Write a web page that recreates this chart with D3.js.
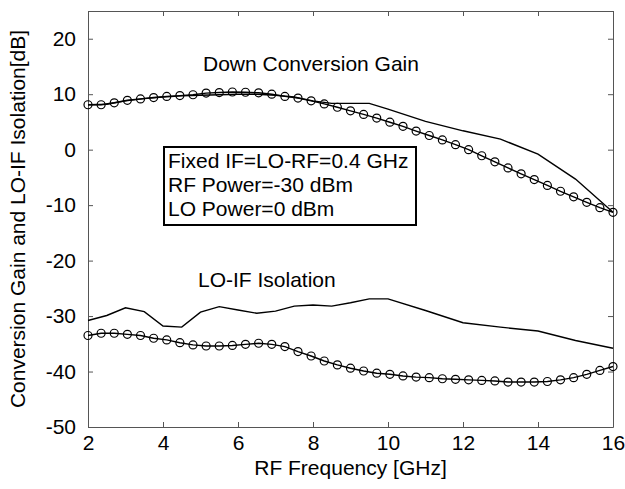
<!DOCTYPE html>
<html>
<head>
<meta charset="utf-8">
<script src="https://cdn.jsdelivr.net/npm/d3@7"></script>
<style>
  body { margin: 0; background: #fff; }
  svg { display: block; font-family: "Liberation Sans", Arial, sans-serif; }
</style>
</head>
<body>
<div id="main"></div>
<script>
// data
var freqCircle = [2.0, 2.35, 2.7, 3.05, 3.4, 3.75, 4.1, 4.45, 4.8, 5.15, 5.5, 5.85, 6.2, 6.55, 6.9,
  7.25, 7.6, 7.95, 8.3, 8.65, 9.0, 9.35, 9.7, 10.05, 10.4, 10.75, 11.1, 11.45, 11.8, 12.15,
  12.5, 12.85, 13.2, 13.55, 13.9, 14.25, 14.6, 14.95, 15.3, 15.65, 16.0];
var gainCircle = [8.1, 8.1, 8.45, 8.9, 9.15, 9.4, 9.6, 9.75, 9.9, 10.2, 10.3, 10.4, 10.35, 10.25, 10.0,
  9.6, 9.3, 8.8, 8.25, 7.65, 7.0, 6.35, 5.7, 4.95, 4.2, 3.35, 2.55, 1.75, 0.9, 0.0,
  -1.1, -2.2, -3.3, -4.35, -5.4, -6.45, -7.5, -8.5, -9.5, -10.45, -11.3];
var isoCircle = [-33.5, -33.1, -33.1, -33.3, -33.5, -34.0, -34.3, -34.8, -35.2, -35.4, -35.4, -35.3, -35.1, -34.9, -35.1,
  -35.5, -36.4, -37.2, -38.1, -38.8, -39.4, -39.9, -40.3, -40.5, -40.8, -41.0, -41.1, -41.3, -41.4, -41.5,
  -41.6, -41.7, -41.9, -41.9, -41.9, -41.8, -41.5, -41.1, -40.5, -39.8, -39.1];

var freqLine = [2, 2.5, 3, 3.5, 4, 4.5, 5, 5.5, 6, 6.5, 7, 7.5, 8, 8.5, 9, 9.5, 10, 11, 12, 13, 14, 15, 16];
var gainLine = [8.1, 8.2, 8.8, 9.2, 9.5, 9.7, 9.8, 9.9, 10.0, 10.0, 9.8, 9.5, 8.8, 8.35, 8.35, 8.35, 7.3, 5.1, 3.4, 1.9, -0.8, -5.3, -11.3];
var isoLine = [-30.8, -29.9, -28.5, -29.2, -31.8, -32.0, -29.3, -28.3, -28.9, -29.5, -29.1, -28.2, -28.0, -28.2, -27.6, -26.9, -26.9, -29.0, -31.2, -32.0, -32.7, -34.4, -35.8];

var xTicks = [2, 4, 6, 8, 10, 12, 14, 16];
var yTicks = [20, 10, 0, -10, -20, -30, -40, -50];
var notes = ["Fixed IF=LO-RF=0.4 GHz", "RF Power=-30 dBm", "LO Power=0 dBm"];

var width = 625, height = 489;
var pLeft = 88, pRight = 613, pTop = 11, pBottom = 427;
var fs = 21;

var svg = d3.select("#main").append("svg")
    .attr("width", width)
    .attr("height", height);

var x = d3.scaleLinear().domain([2, 16]).range([pLeft, pRight]);
var y = d3.scaleLinear().domain([-50, 25]).range([pBottom, pTop]);

// plain hyphen minus like the original
var fmt = function(d) { return String(d); };

// axes, ticks pointing inward on all four sides
function styleAxis(g, showText) {
    g.selectAll("path, line").attr("stroke", "#555").attr("stroke-width", 1);
    g.selectAll("text").attr("fill", "#000").attr("font-size", fs + "px")
        .attr("font-family", "Liberation Sans, Arial, sans-serif");
    if (!showText) g.selectAll("text").remove();
}

svg.append("g").attr("transform", "translate(0," + pBottom + ")")
    .call(d3.axisBottom(x).tickValues(xTicks).tickFormat(fmt).tickSizeInner(-5).tickSizeOuter(0).tickPadding(8))
    .call(function(g) { styleAxis(g, true); });
svg.append("g").attr("transform", "translate(0," + pTop + ")")
    .call(d3.axisTop(x).tickValues(xTicks).tickSizeInner(-5).tickSizeOuter(0))
    .call(function(g) { styleAxis(g, false); });
svg.append("g").attr("transform", "translate(" + pLeft + ",0)")
    .call(d3.axisLeft(y).tickValues(yTicks).tickFormat(fmt).tickSizeInner(-5).tickSizeOuter(0).tickPadding(12))
    .call(function(g) { styleAxis(g, true); });
svg.append("g").attr("transform", "translate(" + pRight + ",0)")
    .call(d3.axisRight(y).tickValues(yTicks).tickSizeInner(-5).tickSizeOuter(0))
    .call(function(g) { styleAxis(g, false); });

var line = d3.line().x(function(d) { return x(d[0]); }).y(function(d) { return y(d[1]); });

function drawLine(xs, ys) {
    svg.append("path")
        .datum(xs.map(function(v, i) { return [v, ys[i]]; }))
        .attr("d", line)
        .attr("fill", "none")
        .attr("stroke", "#000")
        .attr("stroke-width", 1.4);
}
function drawCircles(xs, ys) {
    var pts = xs.map(function(v, i) { return [v, ys[i]]; });
    drawLine(xs, ys);
    svg.append("g").selectAll("circle").data(pts).enter().append("circle")
        .attr("cx", function(d) { return x(d[0]); })
        .attr("cy", function(d) { return y(d[1]); })
        .attr("r", 4)
        .attr("fill", "none")
        .attr("stroke", "#000")
        .attr("stroke-width", 1.2);
}

drawLine(freqLine, gainLine);
drawLine(freqLine, isoLine);
drawCircles(freqCircle, gainCircle);
drawCircles(freqCircle, isoCircle);

// labels inside the plot
svg.append("text").text("Down Conversion Gain")
    .attr("x", 203).attr("y", 71).attr("font-size", fs + "px");
svg.append("text").text("LO-IF Isolation")
    .attr("x", 198).attr("y", 287).attr("font-size", fs + "px");

// note box
svg.append("rect")
    .attr("x", 164).attr("y", 147).attr("width", 252).attr("height", 78)
    .attr("fill", "#fff").attr("stroke", "#000").attr("stroke-width", 2);
svg.selectAll(".note").data(notes).enter().append("text")
    .attr("class", "note")
    .text(function(d) { return d; })
    .attr("x", 168)
    .attr("y", function(d, i) { return 168 + i * 24; })
    .attr("font-size", fs + "px");

// axis titles
svg.append("text").text("RF Frequency [GHz]")
    .attr("x", (pLeft + pRight) / 2).attr("y", 475)
    .attr("text-anchor", "middle").attr("font-size", fs + "px");
svg.append("text").text("Conversion Gain and LO-IF Isolation[dB]")
    .attr("transform", "translate(25," + ((pTop + pBottom) / 2) + ") rotate(-90)")
    .attr("text-anchor", "middle").attr("font-size", fs + "px");
</script>
</body>
</html>
